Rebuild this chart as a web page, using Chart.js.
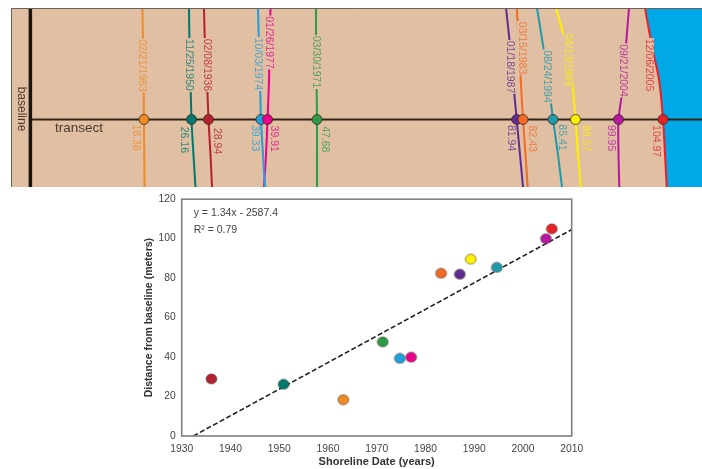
<!DOCTYPE html>
<html>
<head>
<meta charset="utf-8">
<script src="https://cdn.jsdelivr.net/npm/chart.js@4"></script>
<style>
  html, body { margin: 0; background: #fff; }
  canvas { position: absolute; filter: blur(0.45px); }
  #mapa { left: 11px; top: 8px; background: #e0bfa3; }
  #grafico { left: 0; top: 187px; }
</style>
</head>
<body>
<canvas id="mapa" width="691" height="179"></canvas>
<canvas id="grafico" width="702" height="282"></canvas>
<script>
// shorelines, in the order they cross the transect
const dates = ['02/21/1963','11/25/1950','02/08/1936','10/03/1974','01/26/1977','03/30/1971',
               '01/18/1987','03/15/1983','08/24/1994','04/13/1989','09/21/2004','12/06/2005'];
const years = [1963.14,1950.9,1936.1,1974.75,1977.07,1971.24,1987.05,1983.2,1994.65,1989.28,2004.72,2005.93];
const distances = [18.38,26.16,28.94,39.33,39.91,47.68,81.94,82.43,85.41,89.57,99.95,104.97];
const colores = ['#f08a24','#00786f','#b5202e','#1f9fdc','#ec008c','#2e9a48',
                 '#5f2c91','#f26a26','#1f9aa8','#fff200','#b5179e','#e8202a'];

// along-shore levels (m from transect) and the shoreline position at each level
const levels = [18.58,12.4,6.6,0,-5.9,-11.25];
const line1963 = [18.58,18.67,18.75,18.83,18.88,18.92];
const line1950 = [26.33,26.42,26.58,26.75,27.08,27.42];
const line1936 = [28.83,29.0,29.33,29.58,29.92,30.17];
const line1974 = [37.83,38.0,38.17,38.33,38.67,39.0];
const line1977 = [39.92,39.75,39.67,39.42,39.17,38.83];
const line1971 = [47.5,47.5,47.58,47.67,47.67,47.67];
const line1987 = [79.17,79.83,80.33,80.95,81.5,82.0];
const line1983 = [80.95,81.33,81.62,82.0,82.42,82.78];
const line1994 = [84.33,85.33,86.17,87.0,87.83,88.5];
const line1989 = [87.5,89.17,90.17,90.75,91.17,91.62];
const line2004 = [99.67,99.17,98.83,97.92,97.92,98.05];
const line2005 = [102.33,103.45,104.67,105.33,105.67,105.95];
const shorelines = [line1963,line1950,line1936,line1974,line1977,line1971,line1987,line1983,line1994,line1989,line2004,line2005];

// trend line ends
const trendYears = [1932.4,2010];
const trendDistance = [0,104.6];
const xTicks = [1930,1940,1950,1960,1970,1980,1990,2000,2010];
const yTicks = [0,20,40,60,80,100,120];

// where the rotated labels sit on the map
const dateLabelX = [18.5,26.33,29.33,37.83,39.67,47.5,79.83,81.83,86,89.5,98.67,103];
const dateLabelY = [9,9.08,9.08,9.25,12.83,9.58,8.75,11.92,7.17,9.92,8.17,9.08];
const distLabelX = [17.5,25.5,31,37.33,40.5,49,79.95,83.45,88.45,92.5,96.6,104.17];
const distLabelY = [-3,-3.4,-3.6,-3.1,-3.2,-3.3,-3.1,-3.2,-3,-3.1,-3.1,-3.6];

Chart.defaults.font.family = '"Liberation Sans", Arial, sans-serif';
Chart.defaults.animation = false;

function pares(xs, ys) {
  return xs.map((x, i) => ({ x: x, y: ys[i] }));
}

function textoGirado(ctx, txt, x, y, fuente, color) {
  ctx.save();
  ctx.translate(x, y);
  ctx.rotate(Math.PI / 2);
  ctx.font = fuente;
  ctx.fillStyle = color;
  ctx.textAlign = 'center';
  ctx.textBaseline = 'middle';
  ctx.fillText(txt, 0, 0);
  ctx.restore();
}

// the scatter dots are a bit wider than tall in the picture
function elipse(color) {
  const c = document.createElement('canvas');
  c.width = 13; c.height = 12;
  const g = c.getContext('2d');
  g.beginPath();
  g.ellipse(6.5, 6, 5.4, 5, 0, 0, Math.PI * 2);
  g.fillStyle = color;
  g.fill();
  g.strokeStyle = '#4a3a30';
  g.lineWidth = 0.6;
  g.stroke();
  return c;
}

const etiquetasMapa = {
  id: 'etiquetasMapa',
  afterDatasetsDraw(chart) {
    const ctx = chart.ctx, sx = chart.scales.x, sy = chart.scales.y;
    dates.forEach((d, i) => {
      const x = sx.getPixelForValue(dateLabelX[i]), y = sy.getPixelForValue(dateLabelY[i]);
      ctx.fillStyle = '#e0bfa3';
      ctx.fillRect(x - 5, y - 27, 10, 54);
      textoGirado(ctx, d, x, y, '10.5px "Liberation Sans"', colores[i] + 'cc');
      textoGirado(ctx, distances[i].toFixed(2), sx.getPixelForValue(distLabelX[i]), sy.getPixelForValue(distLabelY[i]),
        '10.5px "Liberation Sans"', colores[i] + 'cc');
    });
    textoGirado(ctx, 'baseline', sx.getPixelForValue(-1.67), sy.getPixelForValue(1.75), '12px "Liberation Sans"', '#4a3a30');
    ctx.font = '13.5px "Liberation Sans"';
    ctx.fillStyle = '#4a3a30';
    ctx.textAlign = 'center';
    ctx.textBaseline = 'middle';
    ctx.fillText('transect', sx.getPixelForValue(8), sy.getPixelForValue(-1.5));
    // map edge, top and left only
    ctx.strokeStyle = '#6a6058';
    ctx.lineWidth = 1;
    ctx.beginPath();
    ctx.moveTo(0.5, 179);
    ctx.lineTo(0.5, 0.5);
    ctx.lineTo(691, 0.5);
    ctx.stroke();
  }
};

const lineasCosta = shorelines.map((s, i) => ({
  data: pares(s, levels),
  showLine: true,
  borderColor: colores[i],
  borderWidth: 2,
  tension: 0.3,
  pointRadius: 0,
  order: 3
}));

new Chart(document.getElementById('mapa'), {
  type: 'scatter',
  data: {
    datasets: [
      // water beyond the latest shoreline
      {
        data: pares(line2005.concat([111.83,111.83]), levels.concat([-11.25,18.58])),
        showLine: true,
        fill: 'shape',
        backgroundColor: '#00a8e8',
        borderWidth: 0,
        pointRadius: 0,
        order: 4
      },
      ...lineasCosta,
      { data: pares([0,111.83],[0,0]), showLine: true, borderColor: '#33241a', borderWidth: 2, pointRadius: 0, order: 2 },
      { data: pares([-0.1,-0.1],[18.58,-11.25]), showLine: true, borderColor: '#1c1410', borderWidth: 3.5, pointRadius: 0, order: 1 },
      {
        data: pares(shorelines.map(s => s[3]), shorelines.map(() => 0)),
        backgroundColor: colores,
        borderColor: '#3a2a1e',
        borderWidth: 0.8,
        pointRadius: 5,
        order: 0
      }
    ]
  },
  options: {
    responsive: false,
    layout: { autoPadding: false },
    plugins: { legend: { display: false }, tooltip: { enabled: false } },
    scales: {
      x: { type: 'linear', display: false, min: -3.33, max: 111.83 },
      y: { type: 'linear', display: false, min: -11.25, max: 18.58 }
    }
  },
  plugins: [etiquetasMapa]
});

const marcoYTexto = {
  id: 'marcoYTexto',
  afterDraw(chart) {
    const ctx = chart.ctx, a = chart.chartArea;
    ctx.save();
    ctx.strokeStyle = '#808080';
    ctx.lineWidth = 1.6;
    ctx.strokeRect(a.left, a.top, a.right - a.left, a.bottom - a.top);
    ctx.font = '10.5px "Liberation Sans"';
    ctx.fillStyle = '#444';
    ctx.textBaseline = 'middle';
    ctx.fillText('y = 1.34x - 2587.4', a.left + 12, a.top + 14);
    ctx.fillText('R² = 0.79', a.left + 12, a.top + 31);
    ctx.restore();
  }
};

new Chart(document.getElementById('grafico'), {
  type: 'scatter',
  data: {
    datasets: [
      {
        data: pares(trendYears, trendDistance),
        showLine: true,
        borderColor: '#222',
        borderWidth: 1.6,
        borderDash: [5,2.5],
        pointRadius: 0,
        order: 1
      },
      {
        data: pares(years, distances),
        pointStyle: colores.map(elipse),
        order: 0
      }
    ]
  },
  options: {
    responsive: false,
    layout: { autoPadding: false, padding: { left: 143, right: 130.3, top: 8.7, bottom: 0 } },
    plugins: { legend: { display: false }, tooltip: { enabled: false } },
    scales: {
      x: {
        type: 'linear', min: 1930, max: 2010,
        afterFit: s => { s.height = 33; },
        afterBuildTicks: s => { s.ticks = xTicks.map(v => ({ value: v })); },
        grid: { display: false, drawTicks: false },
        border: { display: false },
        ticks: { color: '#444', font: { size: 10.3 }, padding: 7, maxRotation: 0, callback: v => String(v) },
        title: { display: true, text: 'Shoreline Date (years)', color: '#333', font: { size: 11, weight: 'bold' }, padding: { top: 1, bottom: 0 } }
      },
      y: {
        type: 'linear', min: 0, max: 120,
        afterFit: s => { s.width = 38.7; },
        afterBuildTicks: s => { s.ticks = yTicks.map(v => ({ value: v })); },
        grid: { display: false, drawTicks: false },
        border: { display: false },
        ticks: { color: '#444', font: { size: 10.3 }, padding: 6 },
        title: { display: true, text: 'Distance from baseline (meters)', color: '#333', font: { size: 10.5, weight: 'bold' }, padding: 0 }
      }
    }
  },
  plugins: [marcoYTexto]
});
</script>
</body>
</html>
